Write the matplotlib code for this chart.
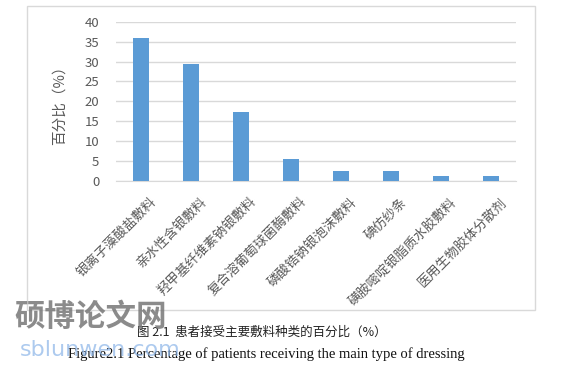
import matplotlib
matplotlib.use("Agg")
import matplotlib.pyplot as plt
import matplotlib.transforms as mtransforms
from matplotlib.patches import Rectangle

# data
categories = ["银离子藻酸盐敷料", "亲水性含银敷料", "羟甲基纤维素钠银敷料", "复合溶葡萄球菌酶敷料",
              "磷酸锆钠银泡沫敷料", "碘仿纱条", "磺胺嘧啶银脂质水胶敷料", "医用生物胶体分散剂"]
percent = [36.0, 29.4, 17.3, 5.4, 2.6, 2.6, 1.3, 1.3]
yticks = [0, 5, 10, 15, 20, 25, 30, 35, 40]

plt.rcParams['font.family'] = ['Noto Sans CJK SC', 'DejaVu Sans']

W, H = 569, 369
fig = plt.figure(figsize=(W / 100, H / 100), dpi=100)

# chart border box
fig.patches.append(Rectangle((27 / W, 1 - 310 / H), (535 - 27) / W, (310 - 6) / H,
                             transform=fig.transFigure, fill=False, edgecolor="#d9d9d9", lw=1))

ax = fig.add_axes([116 / W, 1 - 181 / H, 400 / W, (181 - 21.7) / H])
x = range(len(categories))
ax.bar(x, percent, width=0.32, color="#5b9bd5", zorder=3)
ax.set_xlim(-0.5, len(categories) - 0.5)
ax.set_ylim(0, 40)
ax.set_yticks(yticks)
ax.yaxis.grid(True, color="#d9d9d9", lw=1)
for s in ["top", "right", "left"]:
    ax.spines[s].set_visible(False)
ax.spines["bottom"].set_color("#d9d9d9")
ax.tick_params(axis="both", length=0, colors="#595959")
ax.tick_params(axis="y", labelsize=9.5, pad=12)
ax.set_xticks(list(x))
ax.set_xticklabels(categories, rotation=45, ha="right", rotation_mode="anchor",
                   fontsize=9.5, color="#595959")
ax.tick_params(axis="x", pad=4)
# shift labels so their ends sit right of the bar centres, as in the reference
shift = mtransforms.ScaledTranslation(9 / 100, -9 / 100, fig.dpi_scale_trans)
for lab in ax.get_xticklabels():
    lab.set_transform(lab.get_transform() + shift)
ax.set_ylabel("百分比（%）", fontsize=10.5, color="#595959", labelpad=13)

# captions
fig.text(262 / W, 1 - 332 / H, "图 2.1  患者接受主要敷料种类的百分比（%）", ha="center", va="center",
         fontsize=9, color="#222222")
fig.text(266 / W, 1 - 354 / H, "Figure2.1 Percentage of patients receiving the main type of dressing",
         ha="center", va="center", fontsize=10.5, family="Liberation Serif", color="#111111")

# watermark
fig.text(14 / W, 1 - 317 / H, "硕博论文网", ha="left", va="center", fontsize=22,
         fontweight="bold", color="#777777", alpha=0.85)
fig.text(20 / W, 1 - 350 / H, "sblunwen.com", ha="left", va="center", fontsize=16,
         family="DejaVu Sans", color="#8ab4e8", alpha=0.7)

fig.savefig("out.png", dpi=100)
